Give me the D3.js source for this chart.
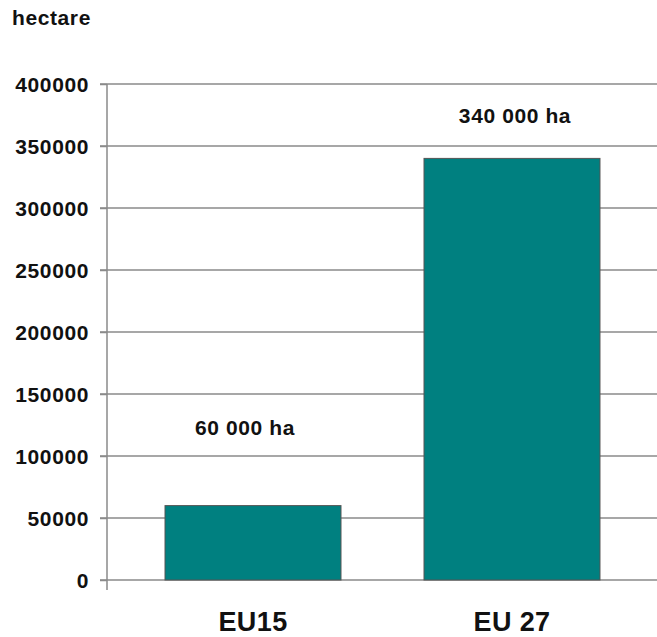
<!DOCTYPE html>
<html><head><meta charset="utf-8">
<script src="https://cdn.jsdelivr.net/npm/d3@7"></script>
<style>body{margin:0;background:#fff}text{font-family:"Liberation Sans",Arial,sans-serif;font-weight:bold;fill:#111}</style>
</head><body><svg id="c" width="657" height="637"></svg>
<script>
const categories = ["EU15", "EU 27"];
const values = [60000, 340000];
const valueLabels = ["60 000 ha", "340 000 ha"];
const yTicks = [0, 50000, 100000, 150000, 200000, 250000, 300000, 350000, 400000];
const unitLabel = "hectare";

const svg = d3.select("#c");
const y = d3.scaleLinear().domain([0, 400000]).range([580, 84]);
const x = d3.scaleBand().domain(categories).range([107, 658]).paddingInner(0.3205).paddingOuter(0.224);

// gridlines
svg.append("g").selectAll("line").data(yTicks).join("line")
  .attr("x1", 100).attr("x2", 657)
  .attr("y1", d => y(d)).attr("y2", d => y(d))
  .attr("stroke", "#8a8a8a").attr("stroke-width", 1.5);

// y axis
const ya = svg.append("g").attr("transform", "translate(107,0)")
  .call(d3.axisLeft(y).tickValues(yTicks).tickFormat(d3.format("d")).tickSize(7).tickPadding(11));
ya.select(".domain").remove();
ya.selectAll(".tick line").attr("stroke", "#8a8a8a").attr("stroke-width", 1.5);
ya.selectAll(".tick text").style("font-size", "21px").style("letter-spacing", "0.6px")
  .attr("fill", "#1a1a1a").attr("dy", "0.36em");
svg.append("line").attr("x1", 107).attr("x2", 107).attr("y1", y(400000)).attr("y2", 590)
  .attr("stroke", "#8a8a8a").attr("stroke-width", 1.5);

// bars
svg.append("g").selectAll("rect").data(values).join("rect")
  .attr("x", (d, i) => x(categories[i])).attr("width", x.bandwidth())
  .attr("y", d => y(d)).attr("height", d => y(0) - y(d))
  .attr("fill", "#008080").attr("stroke", "#555").attr("stroke-width", 1);

// value labels
const labelOffsets = [71, 35];
const labelDx = [-8, 3];
svg.append("g").selectAll("text").data(values).join("text")
  .attr("x", (d, i) => x(categories[i]) + x.bandwidth() / 2 + labelDx[i])
  .attr("y", (d, i) => y(d) - labelOffsets[i])
  .attr("text-anchor", "middle").style("font-size", "21px").style("letter-spacing", "0.6px")
  .text((d, i) => valueLabels[i]);

// category labels
const xa = svg.append("g").attr("transform", "translate(0,580)")
  .call(d3.axisBottom(x).tickSize(0).tickPadding(0));
xa.select(".domain").remove();
xa.selectAll(".tick text").style("font-size", "27px").style("letter-spacing", "0.4px")
  .attr("y", 0).attr("dy", "51px").attr("fill", "#111");

svg.append("text").attr("x", 12).attr("y", 25).style("font-size", "21px").style("letter-spacing", "0.6px").text(unitLabel);
</script></body></html>
